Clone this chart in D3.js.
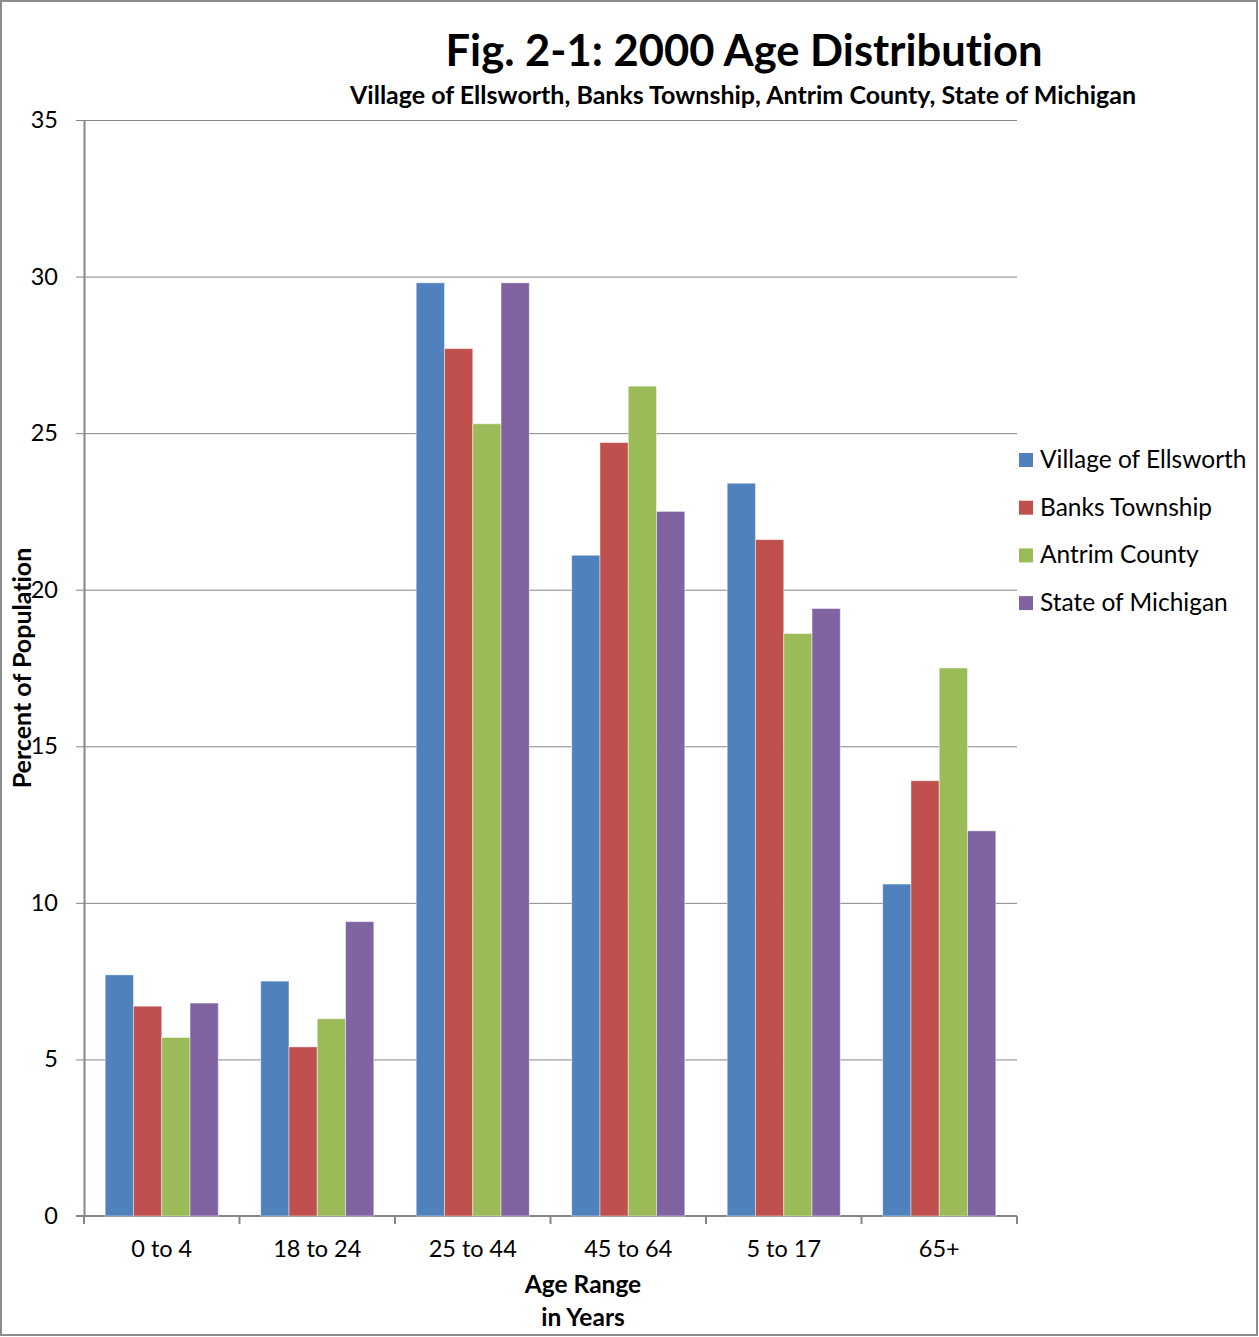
<html>

<head>
  <script src="https://d3js.org/d3.v7.min.js"></script>
  <style>
    body { margin: 0; }
    text { font-family: Lato, "Open Sans", sans-serif; fill: #000; font-variant-ligatures: none; }
    .axis .domain { stroke: #868686; }
    .axis line { stroke: #868686; }
    .gridlines line { stroke: #868686; }
    .gridlines .domain { stroke: none; }
  </style>
</head>

<body>
  <svg id="chart" width="1259" height="1337"></svg>
  <script>
    const categories = ["0 to 4", "18 to 24", "25 to 44", "45 to 64", "5 to 17", "65+"];
    const seriesNames = ["Village of Ellsworth", "Banks Township", "Antrim County", "State of Michigan"];
    const colors = ["#4f81bd", "#c0504d", "#9bbb59", "#8064a2"];
    const ellsworth = [7.7, 7.5, 29.8, 21.1, 23.4, 10.6];
    const banks = [6.7, 5.4, 27.7, 24.7, 21.6, 13.9];
    const antrim = [5.7, 6.3, 25.3, 26.5, 18.6, 17.5];
    const michigan = [6.8, 9.4, 29.8, 22.5, 19.4, 12.3];
    const yTicks = [0, 5, 10, 15, 20, 25, 30, 35];

    const seriesValues = [ellsworth, banks, antrim, michigan];
    const table = categories.map((c, i) => ({
      category: c,
      values: seriesNames.map((s, j) => ({ series: s, value: seriesValues[j][i] }))
    }));

    const svg = d3.select('#chart');
    const width = +svg.attr("width");
    const height = +svg.attr("height");
    const margin = { top: 120, right: 242, bottom: 121, left: 84 };
    const chartWidth = width - margin.left - margin.right;
    const chartHeight = height - margin.top - margin.bottom;

    // outer frame
    svg.append("rect")
      .attr("x", 1).attr("y", 1)
      .attr("width", width - 3).attr("height", height - 3)
      .style("fill", "white").style("stroke", "#8c8c8c").style("stroke-width", 2);

    const xScale = d3.scaleBand().domain(categories).range([0, chartWidth]);
    const seriesScale = d3.scaleBand().domain(seriesNames)
      .range([0, xScale.bandwidth()]).paddingOuter(0.75).paddingInner(0);
    const yScale = d3.scaleLinear().domain([0, 35]).range([chartHeight, 0]);
    const colorScale = d3.scaleOrdinal().domain(seriesNames).range(colors);

    const annotations = svg.append("g").attr("id", "annotations");
    const chartArea = svg.append("g")
      .attr("transform", `translate(${margin.left},${margin.top})`);

    annotations.append("g")
      .attr("class", "gridlines")
      .attr("transform", `translate(${margin.left},${margin.top})`)
      .call(d3.axisLeft(yScale).tickValues(yTicks.filter(t => t > 0)).tickSize(-chartWidth).tickFormat(""));

    const groups = chartArea.selectAll("g.group").data(table)
      .join("g")
      .attr("class", "group")
      .attr("transform", d => `translate(${xScale(d.category)},0)`);

    groups.selectAll("rect")
      .data(d => d.values)
      .join("rect")
      .attr("x", v => seriesScale(v.series))
      .attr("y", v => yScale(v.value))
      .attr("width", seriesScale.bandwidth())
      .attr("height", v => chartHeight - yScale(v.value))
      .style("fill", v => colorScale(v.series))
      .style("stroke", "rgba(255,255,255,0.45)")
      .style("stroke-width", 1);

    // y axis
    const yAxis = annotations.append("g")
      .attr("class", "axis")
      .attr("transform", `translate(${margin.left},${margin.top})`)
      .call(d3.axisLeft(yScale).tickValues(yTicks).tickSize(8).tickSizeOuter(0).tickPadding(18));
    yAxis.selectAll("text").style("font-size", "23.5px");
    yAxis.select(".domain").style("stroke-width", 2);

    // x axis with ticks at band boundaries
    const xAxis = annotations.append("g")
      .attr("class", "axis")
      .attr("transform", `translate(${margin.left},${margin.top + chartHeight})`)
      .call(d3.axisBottom(xScale).tickSize(0).tickPadding(24));
    xAxis.selectAll("text").style("font-size", "23.5px");
    xAxis.select(".domain").style("stroke-width", 2).attr("d", `M-8,0H${chartWidth}`);
    xAxis.selectAll("line.boundary")
      .data(categories.map(c => xScale(c)).concat([chartWidth]))
      .join("line")
      .attr("class", "boundary")
      .attr("x1", d => d).attr("x2", d => d)
      .attr("y1", 0).attr("y2", 8)
      .style("stroke", "#868686").style("stroke-width", 2);

    // titles
    svg.append("text")
      .attr("x", 744).attr("y", 66)
      .attr("text-anchor", "middle")
      .style("font-size", "43.5px").style("font-weight", "bold")
      .text("Fig. 2-1: 2000 Age Distribution");
    svg.append("text")
      .attr("x", 743).attr("y", 104)
      .attr("text-anchor", "middle")
      .style("font-size", "25px").style("font-weight", "bold")
      .text("Village of Ellsworth, Banks Township, Antrim County, State of Michigan");

    svg.append("text")
      .attr("transform", "translate(31,668) rotate(-90)")
      .attr("text-anchor", "middle")
      .style("font-size", "25px").style("font-weight", "bold")
      .text("Percent of Population");

    const xTitle = svg.append("text")
      .attr("text-anchor", "middle")
      .style("font-size", "24.5px").style("font-weight", "bold");
    xTitle.append("tspan").attr("x", 583).attr("y", 1293).text("Age Range");
    xTitle.append("tspan").attr("x", 583).attr("y", 1326).text("in Years");

    // legend
    const legend = svg.append("g").attr("transform", "translate(1019,453)");
    const items = legend.selectAll("g").data(seriesNames)
      .join("g")
      .attr("transform", (d, i) => `translate(0,${i * 47.7})`);
    items.append("rect")
      .attr("width", 14).attr("height", 14)
      .style("fill", d => colorScale(d));
    items.append("text")
      .attr("x", 21).attr("y", 15)
      .style("font-size", "24.5px")
      .text(d => d);
  </script>
</body>

</html>
